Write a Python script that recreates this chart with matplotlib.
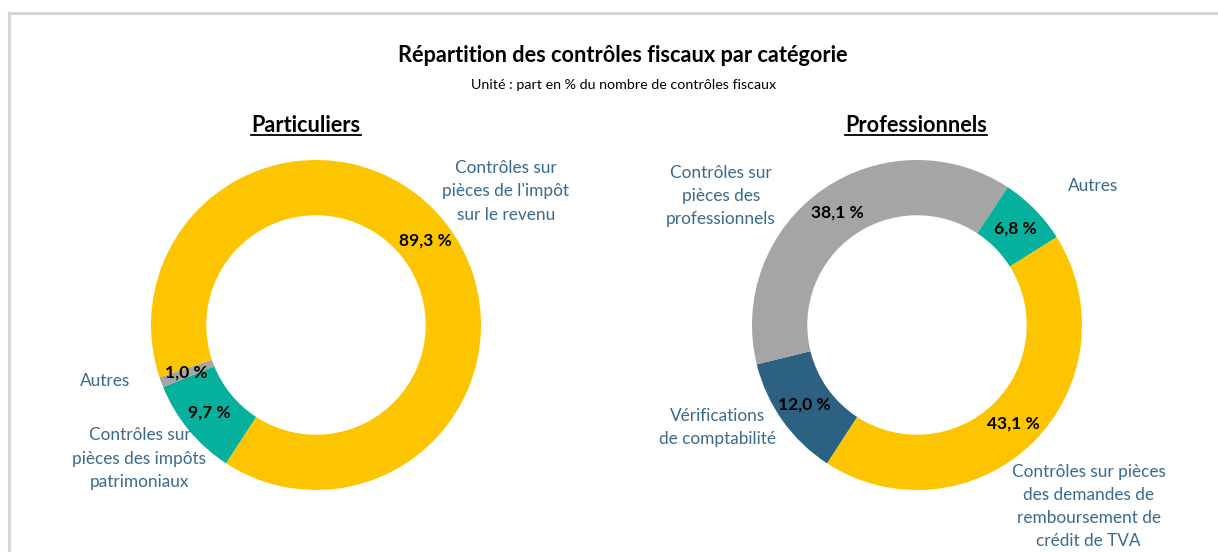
import matplotlib.pyplot as plt
import numpy as np
from matplotlib.lines import Line2D

plt.rcParams['font.family'] = ['Lato', 'DejaVu Sans']

# data
part_labels = ["Contrôles sur\npièces des impôts\npatrimoniaux", "Autres",
               "Contrôles sur\npièces de l'impôt\nsur le revenu"]
part_values = [9.7, 1.0, 89.3]
part_colors = ["#05B09D", "#A5A5A5", "#FCC500"]

pro_labels = ["Vérifications\nde comptabilité", "Contrôles sur\npièces des\nprofessionnels",
              "Autres", "Contrôles sur pièces\ndes demandes de\nremboursement de\ncrédit de TVA"]
pro_values = [12.0, 38.1, 6.8, 43.1]
pro_colors = ["#2C6184", "#A5A5A5", "#05B09D", "#FCC500"]

# label placement (in units of the donut radius)
part_pos = [(-1.07, -0.81), (-1.28, -0.34), (1.15, 0.81)]
pro_pos = [(-1.21, -0.62), (-1.19, 0.78), (1.07, 0.84), (1.04, -1.10)]

W, H = 1218, 552
fig = plt.figure(figsize=(W / 100, H / 100), dpi=100)
label_color = "#3A6A8E"


def donut(cx, cy, values, colors, labels, positions, title, title_x):
    r_px, half = 165, 220
    ax = fig.add_axes([(cx - half) / W, (H - cy - half) / H, 2 * half / W, 2 * half / H])
    wedges, texts = ax.pie(values, colors=colors, startangle=237, counterclock=False,
                           radius=1, wedgeprops=dict(width=0.335, linewidth=0))
    for w, v in zip(wedges, values):
        ang = np.deg2rad((w.theta1 + w.theta2) / 2)
        ax.text(0.835 * np.cos(ang), 0.835 * np.sin(ang), f"{v:.1f} %".replace('.', ','),
                ha='center', va='center', fontsize=12.5, fontweight='bold', color='black')
    for lab, (x, y) in zip(labels, positions):
        ax.text(x, y, lab, ha='center', va='center', fontsize=12.4, color=label_color,
                linespacing=1.55)
    lim = half / r_px
    ax.set_xlim(-lim, lim)
    ax.set_ylim(-lim, lim)
    ax.axis('off')
    t = fig.text(title_x / W, 1 - 126 / H, title, ha='center', va='center', fontsize=15.6,
                 fontweight='bold', color='black')
    return t


t1 = donut(316, 325, part_values, part_colors, part_labels, part_pos, "Particuliers", 306)
t2 = donut(917, 325, pro_values, pro_colors, pro_labels, pro_pos, "Professionnels", 916)

fig.text(623 / W, 1 - 55 / H, "Répartition des contrôles fiscaux par catégorie",
         ha='center', va='center', fontsize=15.7, fontweight='bold', color='black')
fig.text(624 / W, 1 - 85 / H, "Unité : part en % du nombre de contrôles fiscaux",
         ha='center', va='center', fontsize=10.3, color='black')

# underline the section titles
fig.canvas.draw()
for t in (t1, t2):
    bb = t.get_window_extent()
    y = (bb.y0 + 2) / H
    fig.add_artist(Line2D([bb.x0 / W, bb.x1 / W], [y, y], color='black', lw=1.3))

# frame lines (top and left)
fig.add_artist(Line2D([9 / W, 1], [1 - 13 / H, 1 - 13 / H], color='#D4D4D4', lw=2.2))
fig.add_artist(Line2D([9 / W, 9 / W], [0, 1 - 13 / H], color='#D4D4D4', lw=2.2))

fig.savefig("out.png", dpi=100, facecolor='white')
